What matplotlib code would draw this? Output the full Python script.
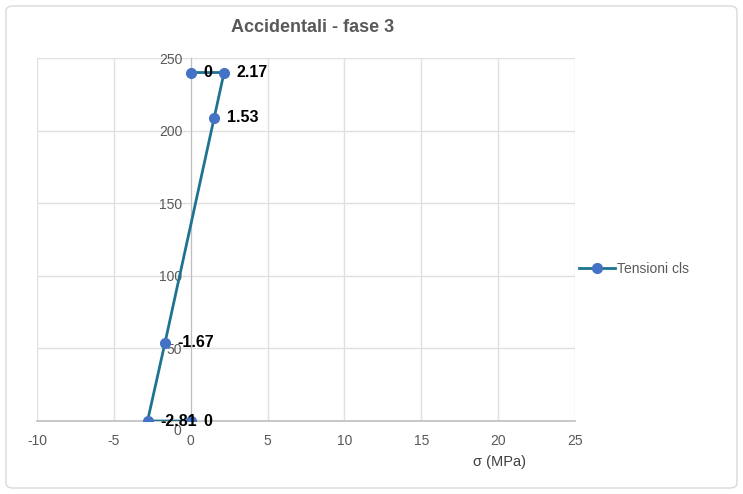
import matplotlib.pyplot as plt
from matplotlib.patches import FancyBboxPatch

plt.rcParams['font.family'] = ['Liberation Sans', 'DejaVu Sans']
plt.rcParams['axes.unicode_minus'] = False

# data: stress (MPa) vs height
sigma = [0, 2.17, 1.53, -1.67, -2.81, 0]
height = [240, 240, 209, 54, 0, 0]
labels = ['0', '2.17', '1.53', '-1.67', '-2.81', '0']
xticks = [-10, -5, 0, 5, 10, 15, 20, 25]
yticks = [0, 50, 100, 150, 200, 250]

fig = plt.figure(figsize=(7.43, 4.94), dpi=100)
ax = fig.add_axes([37 / 743, 1 - 421 / 494, (575 - 37) / 743, (421 - 58) / 494])

fig.patches.append(FancyBboxPatch((6 / 743, 6 / 494), 731 / 743, 482 / 494,
                                  boxstyle='round,pad=0,rounding_size=0.01',
                                  transform=fig.transFigure, fc='white',
                                  ec='#d9d9d9', lw=1, zorder=-10))

ax.plot(sigma, height, color='#1f7391', lw=2, marker='o', ms=7,
        mfc='#4472c4', mec='#4472c4', label='Tensioni cls', zorder=3)
for x, y, t in zip(sigma, height, labels):
    ax.annotate(t, (x, y), xytext=(9, 0), textcoords='offset points',
                va='center', ha='left', fontsize=11.5, fontweight='bold',
                color='black', zorder=4)

ax.set_xlim(-10, 25)
ax.set_ylim(0, 250)
ax.set_xticks(xticks)
ax.set_yticks(yticks)
ax.set_yticklabels(['' if v == 0 else str(v) for v in yticks])
ax.grid(True, color='#e0e0e0', lw=1)
ax.set_axisbelow(True)

for s in ['top', 'right']:
    ax.spines[s].set_visible(False)
ax.spines['left'].set_position(('data', 0))
ax.spines['left'].set_color('#bfbfbf')
ax.spines['bottom'].set_color('#bfbfbf')
ax.spines['bottom'].set_linewidth(1.2)
ax.tick_params(length=0, labelsize=10, labelcolor='#595959', pad=6)
ax.tick_params(axis='x', pad=9)
# zero label on y-axis sits just below the x axis, partly hidden
ax.text(-0.6, -2, '0', ha='right', va='top', fontsize=10, color='#595959',
        zorder=1)

fig.text(313 / 743, 1 - 27 / 494, 'Accidentali - fase 3', ha='center',
         va='center', fontsize=13, fontweight='bold', color='#595959')
fig.text(500 / 743, 1 - 462 / 494, 'σ (MPa)', ha='center', va='center',
         fontsize=10.5, color='#404040')

leg = fig.legend(loc='center left', bbox_to_anchor=(566 / 743, 1 - 269 / 494),
                 frameon=False, fontsize=10, handlelength=2.6,
                 handletextpad=0.2)
for t in leg.get_texts():
    t.set_color('#595959')

fig.savefig('out.png', dpi=100)
